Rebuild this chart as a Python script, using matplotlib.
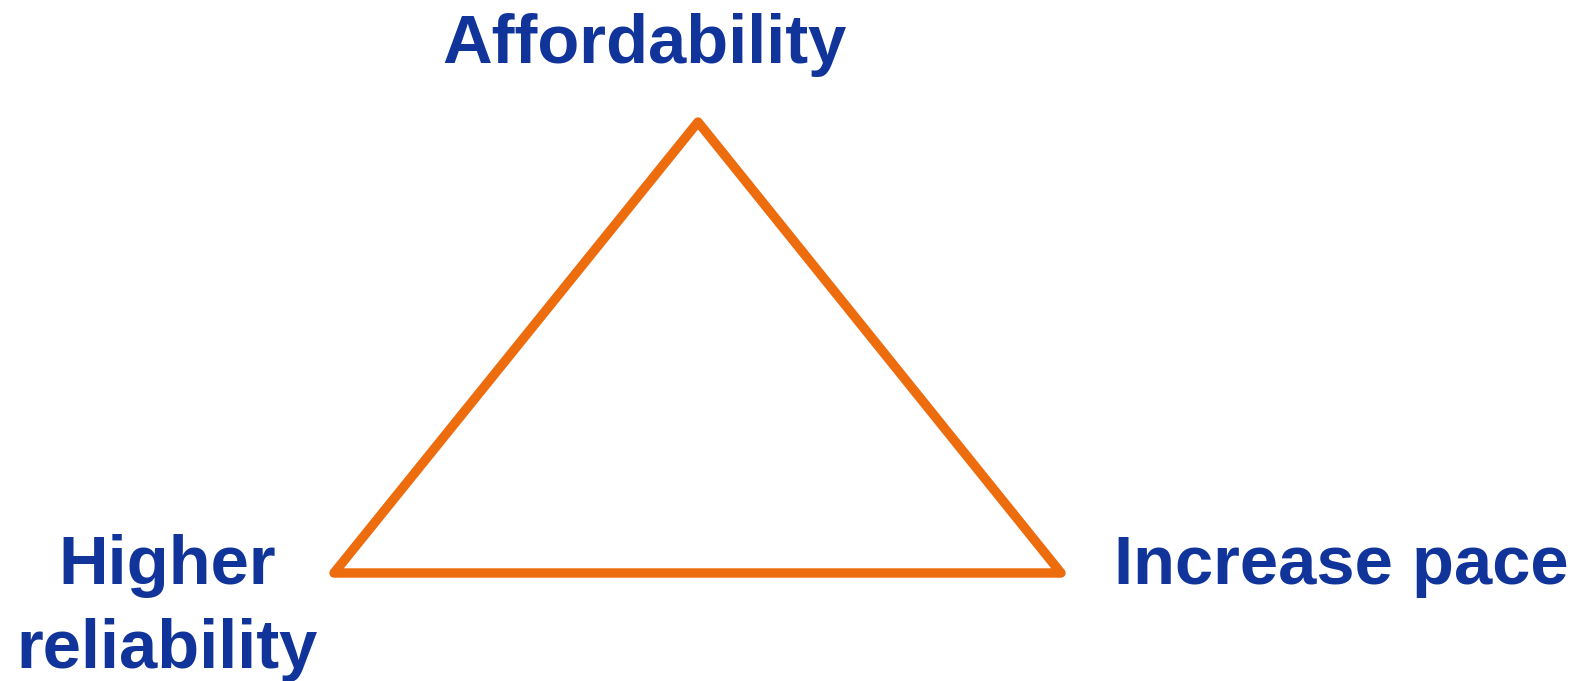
import matplotlib.pyplot as plt

# triangle corners (x, y in pixel space of the slide, y grows downward)
corner_x = [698, 334, 1061]
corner_y = [122, 573, 573]

labels = ["Affordability", "Higher", "reliability", "Increase pace"]
label_x = [644, 167, 167, 1114]
label_y = [63, 584, 668, 584]
label_ha = ["center", "center", "center", "left"]

blue = "#11349B"
orange = "#EC6C0E"

fig = plt.figure(figsize=(15.88, 6.81), dpi=100)
ax = fig.add_axes([0, 0, 1, 1])
ax.set_xlim(0, 1588)
ax.set_ylim(681, 0)
ax.axis("off")

ax.fill(corner_x, corner_y, facecolor="none", edgecolor=orange,
        linewidth=6.8, joinstyle="round")

for txt, x, y, ha in zip(labels, label_x, label_y, label_ha):
    ax.text(x, y, txt, ha=ha, va="baseline", color=blue,
            fontsize=49.5, fontweight="bold", family="Liberation Sans")

fig.savefig("out.png", dpi=100)
